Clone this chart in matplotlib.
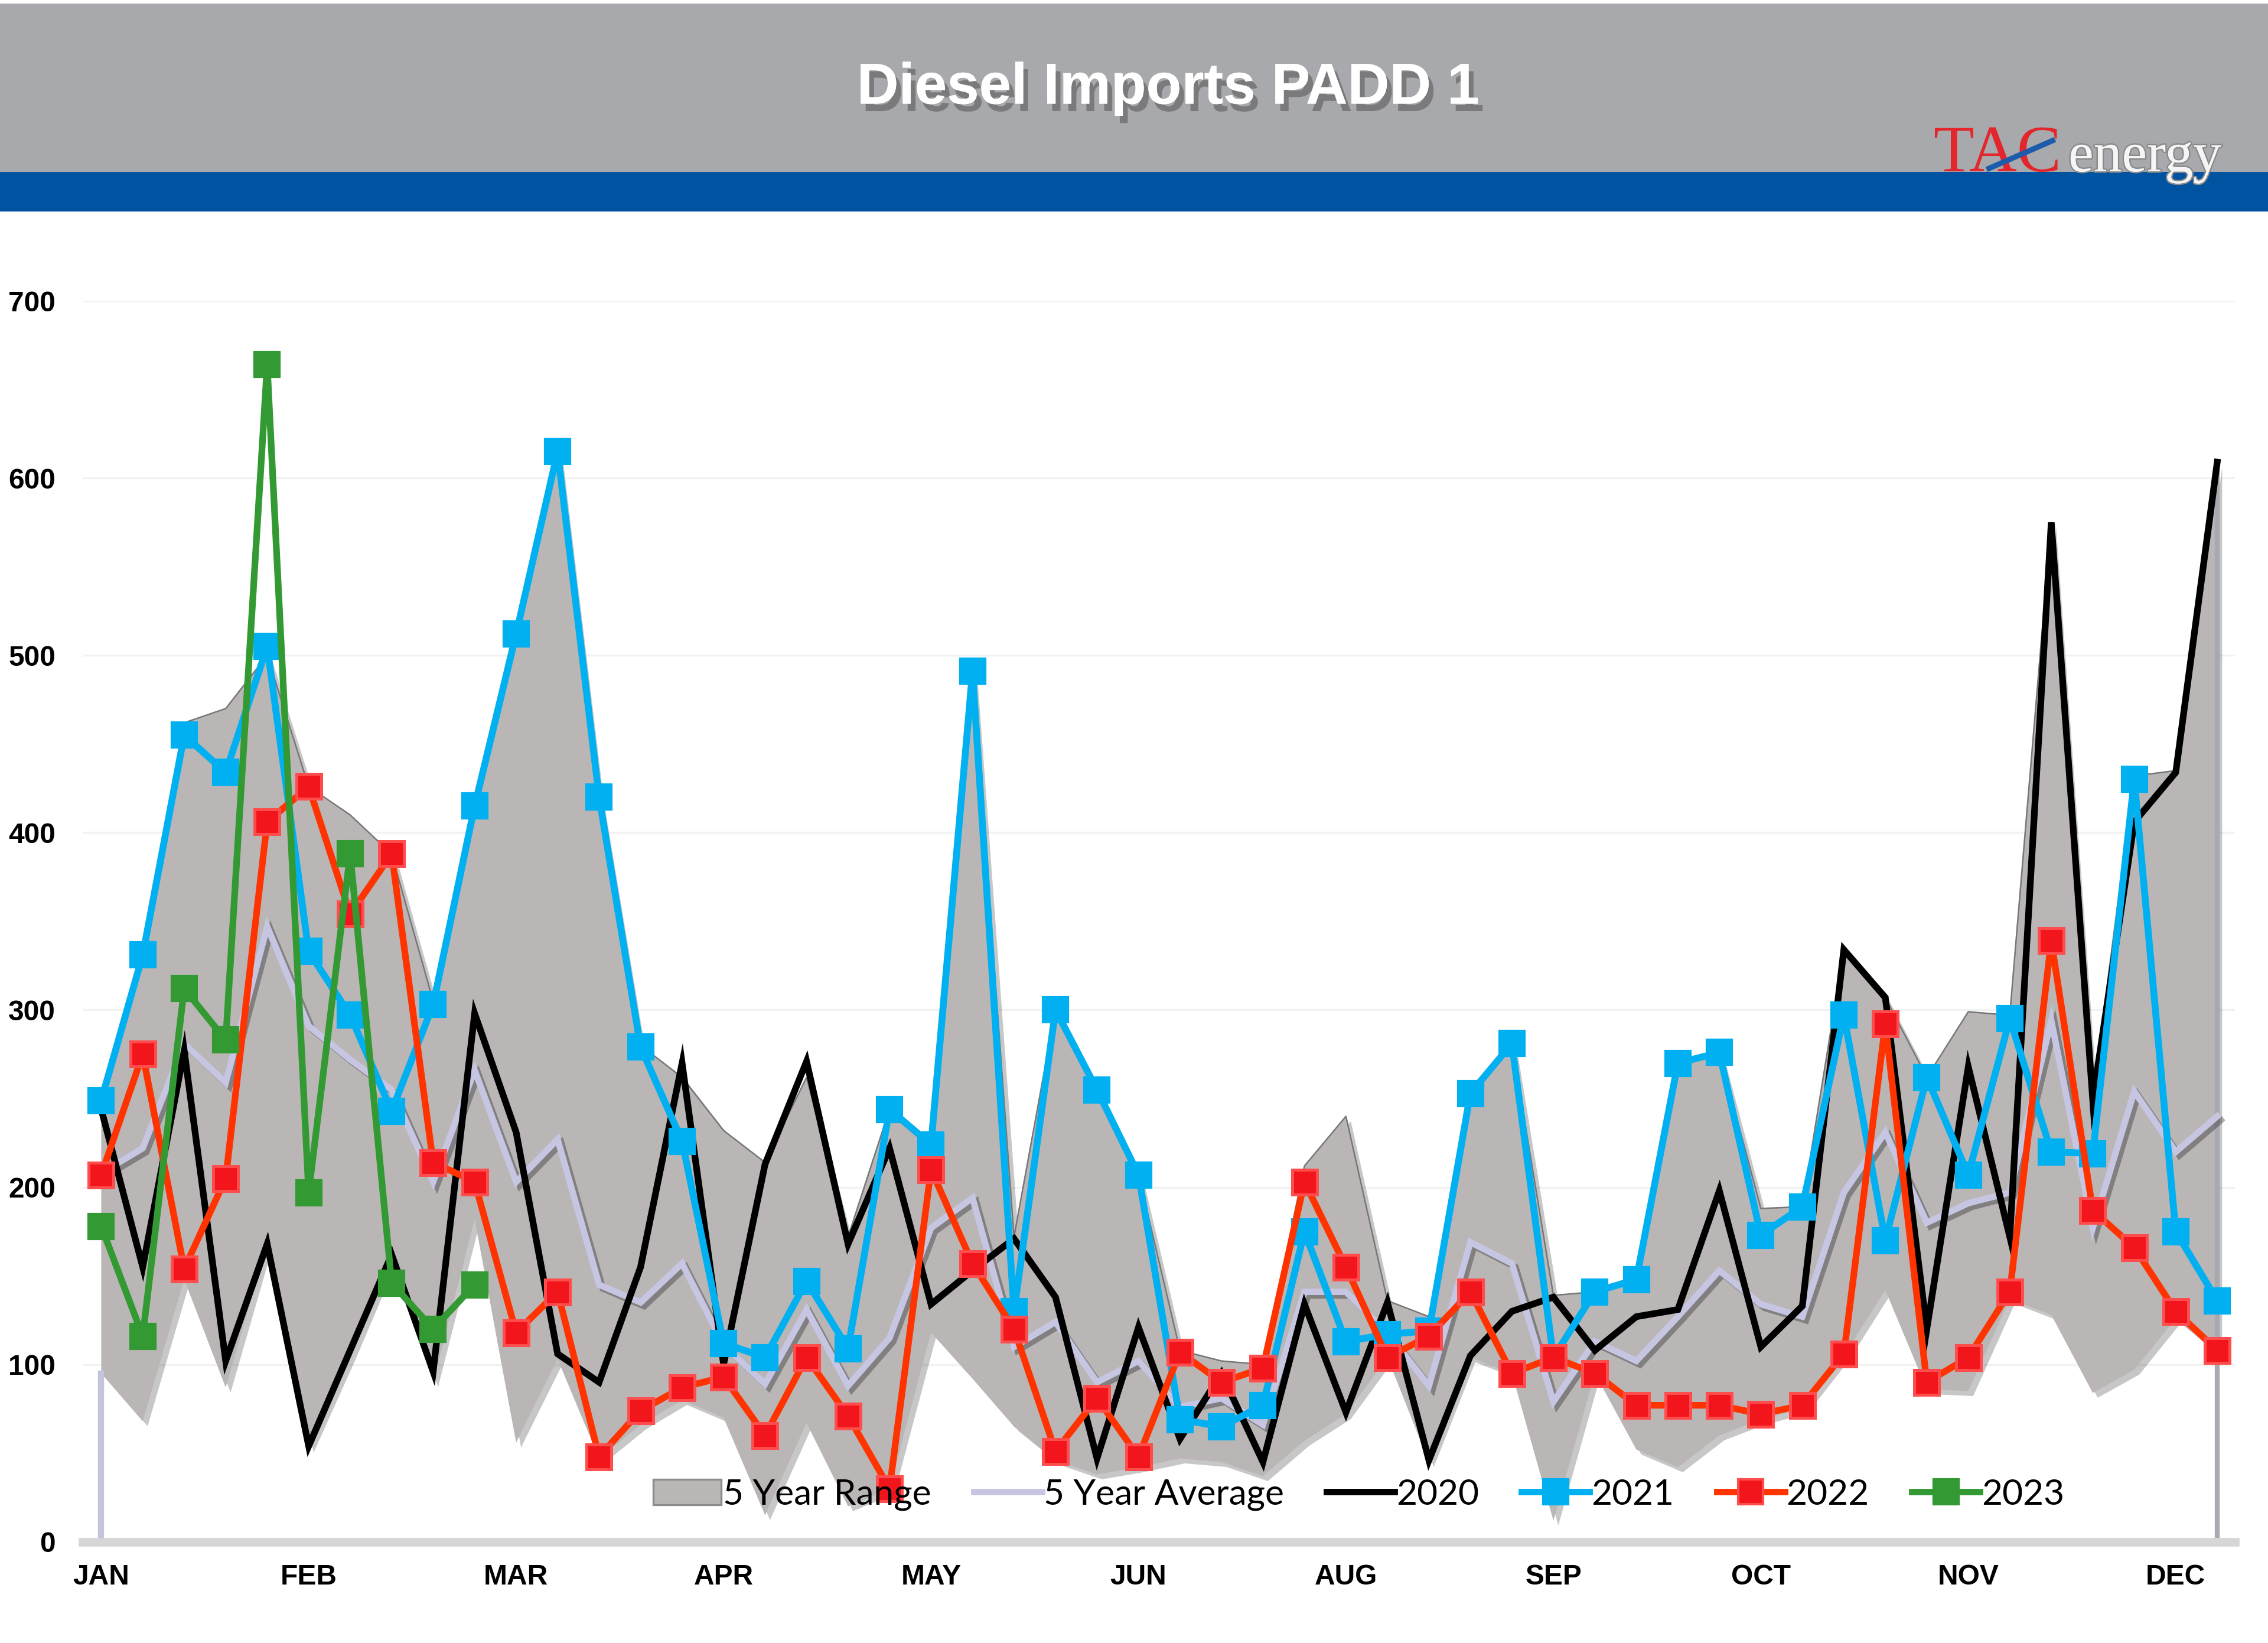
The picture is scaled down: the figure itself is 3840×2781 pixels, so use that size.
import matplotlib
matplotlib.use("Agg")
import matplotlib.pyplot as plt
import matplotlib.patheffects as pe
from matplotlib.patches import Rectangle, Patch
from matplotlib.lines import Line2D
import numpy as np

# ---------------- data (weekly, 52 weeks) ----------------
month_labels = ["JAN", "FEB", "MAR", "APR", "MAY", "JUN", "AUG", "SEP", "OCT", "NOV", "DEC"]
label_weeks = [0, 5, 10, 15, 20, 25, 30, 35, 40, 45, 50]

range_upper = [249, 331, 462, 470, 500, 426, 410, 388, 305, 415, 512, 615, 420, 280, 262, 232,
               214, 262, 172, 244, 224, 491, 172, 300, 255, 207, 108, 102, 100, 212, 240, 136,
               127, 253, 281, 139, 141, 149, 270, 276, 188, 189, 334, 307, 262, 299, 297, 575,
               251, 432, 435, 609]
range_lower = [95, 68, 148, 87, 168, 53, 105, 160, 90, 182, 56, 103, 47, 66, 80, 70,
               15, 67, 20, 30, 118, 92, 65, 46, 38, 42, 47, 45, 37, 57, 72, 104,
               45, 104, 95, 12, 95, 52, 42, 60, 69, 75, 105, 142, 86, 85, 137, 128,
               84, 97, 126, 107]
avg5 = [208, 222, 281, 259, 347, 291, 272, 255, 203, 266, 203, 227, 145, 135, 157, 111,
        89, 131, 88, 115, 177, 194, 110, 124, 90, 102, 76, 81, 66, 141, 141, 118,
        88, 169, 157, 79, 113, 102, 127, 153, 134, 127, 197, 231, 180, 191, 197, 294,
        177, 254, 220, 240]
y2020 = [244, 155, 277, 102, 168, 54, 108, 162, 96, 298, 231, 106, 90, 155, 270, 100,
         213, 271, 168, 222, 134, 153, 171, 138, 47, 121, 58, 95, 45, 134, 73, 135,
         46, 105, 130, 138, 108, 127, 131, 198, 110, 133, 334, 307, 120, 268, 172, 575,
         249, 406, 434, 609]
y2021 = [249, 331, 455, 434, 505, 333, 297, 243, 303, 415, 512, 615, 420, 279, 226, 112,
         104, 147, 109, 244, 224, 491, 130, 300, 255, 207, 69, 65, 77, 175, 113, 117,
         119, 253, 281, 104, 141, 148, 270, 276, 173, 189, 297, 170, 262, 207, 295, 220,
         219, 430, 175, 136]
y2022 = [207, 275, 154, 205, 406, 426, 354, 388, 214, 203, 118, 141, 48, 74, 87, 93,
         60, 104, 71, 30, 210, 157, 120, 51, 81, 48, 107, 90, 98, 203, 155, 104,
         116, 141, 95, 104, 95, 77, 77, 77, 72, 77, 106, 292, 90, 104, 141, 339,
         187, 166, 130, 108]
y2023 = [178, 116, 312, 283, 664, 197, 388, 146, 120, 145]

weeks = np.arange(len(y2020))

# ---------------- figure ----------------
W, H = 3840, 2781
fig = plt.figure(figsize=(W / 300, H / 300), dpi=300)
fig.patch.set_facecolor("white")

# header bands
fig.add_artist(Rectangle((0, 1 - 291 / H), 1, (291 - 6) / H, transform=fig.transFigure,
                         facecolor="#A7A9AC", edgecolor="none", zorder=0))
fig.add_artist(Rectangle((0, 1 - 358 / H), 1, 67 / H, transform=fig.transFigure,
                         facecolor="#0053A1", edgecolor="none", zorder=0))

fig.text(0.515, 1 - 150 / H, "Diesel Imports PADD 1", ha="center", va="center",
         color="white", fontsize=23.5, fontweight="bold", family="Liberation Sans",
         path_effects=[pe.withSimplePatchShadow(offset=(2, -3), shadow_rgbFace="#555555",
                                                alpha=0.55), pe.Normal()])

# logo
fig.text(0.8525, 1 - 290 / H, "TAC", ha="left", va="baseline", color="#E3262B",
         fontsize=27, family="Liberation Serif", zorder=5)
fig.text(0.912, 1 - 290 / H, "energy", ha="left", va="baseline", color="#F5F5F5",
         fontsize=23, family="Liberation Serif", zorder=5,
         path_effects=[pe.withStroke(linewidth=1.2, foreground="#8a8a8a"), pe.Normal()])
fig.add_artist(Line2D([0.877, 0.905], [1 - 285 / H, 1 - 238 / H], transform=fig.transFigure,
                      color="#1E5BAA", lw=2.2, zorder=6))

# ---------------- axes ----------------
ax = fig.add_axes([0.0364, 0.0616, 0.9489, 0.7553])
ax.set_xlim(-0.45, 51.42)
ax.set_ylim(0, 700)
for s in ax.spines.values():
    s.set_visible(False)
ax.set_yticks(range(0, 701, 100))
ax.set_yticklabels([str(v) for v in range(0, 701, 100)])
ax.set_xticks(label_weeks)
ax.set_xticklabels(month_labels)
ax.tick_params(axis="both", length=0, labelsize=11.5)
ax.tick_params(axis="y", pad=11)
ax.tick_params(axis="x", pad=9)
for t in ax.get_xticklabels() + ax.get_yticklabels():
    t.set_fontweight("bold")
    t.set_family("Liberation Sans")
ax.grid(axis="y", color="#F2F2F2", lw=0.8)
ax.set_axisbelow(True)

# 5 year range
rng = ax.fill_between(weeks, range_lower, range_upper, facecolor="#BAB6B6",
                      edgecolor="none", zorder=1)
rng.set_path_effects([pe.withSimplePatchShadow(offset=(2, -2), shadow_rgbFace="#000000",
                                               alpha=0.22)])
ax.plot(weeks, range_upper, color="#777777", lw=0.6, zorder=1.1)
ax.plot([0, 0], [0, range_lower[0]], color="#C4C4DA", lw=2.5, zorder=1.2)
ax.plot([weeks[-1], weeks[-1]], [0, range_upper[-1]], color="#A8A8B0", lw=2.0, zorder=1.2)
ax.axhline(0, color="#D6D6D6", lw=3.5, zorder=1.3, clip_on=False)

# 5 year average
ax.plot(weeks, avg5, color="#C6C6E2", lw=2.6, zorder=2, solid_joinstyle="miter",
        path_effects=[pe.SimpleLineShadow(offset=(1.5, -1.5), alpha=0.3), pe.Normal()])
# years
ax.plot(weeks, y2020, color="black", lw=2.7, zorder=3, solid_joinstyle="miter")
ax.plot(weeks, y2021, color="#00B0F0", lw=2.8, marker="s", ms=10, mfc="#00B0F0",
        mec="#00B0F0", zorder=4)
ax.plot(weeks, y2022, color="#FF3300", lw=2.7, marker="s", ms=10, mfc="#F2161C",
        mec="#FF4D4D", mew=1.2, zorder=5)
ax.plot(weeks[:len(y2023)], y2023, color="#339933", lw=2.7, marker="s", ms=10,
        mfc="#339933", mec="#339933", zorder=6)

# legend
handles = [
    Patch(facecolor="#BAB6B6", edgecolor="#8c8c8c", lw=0.8),
    Line2D([], [], color="#C6C6E2", lw=2.6),
    Line2D([], [], color="black", lw=2.6),
    Line2D([], [], color="#00B0F0", lw=2.6, marker="s", ms=10),
    Line2D([], [], color="#FF3300", lw=2.6, marker="s", ms=10, mfc="#F2161C", mec="#FF4D4D"),
    Line2D([], [], color="#339933", lw=2.6, marker="s", ms=10),
]
labels = ["5 Year Range", "5 Year Average", "2020", "2021", "2022", "2023"]
leg = ax.legend(handles, labels, loc="center", bbox_to_anchor=(0.593, 0.038), ncol=6,
                frameon=False, prop={"family": "Lato", "size": 14.5}, handlelength=1.9,
                handletextpad=0.05, columnspacing=1.2, borderaxespad=0)
leg.set_zorder(7)

fig.savefig("out.png", dpi=300, facecolor="white")
